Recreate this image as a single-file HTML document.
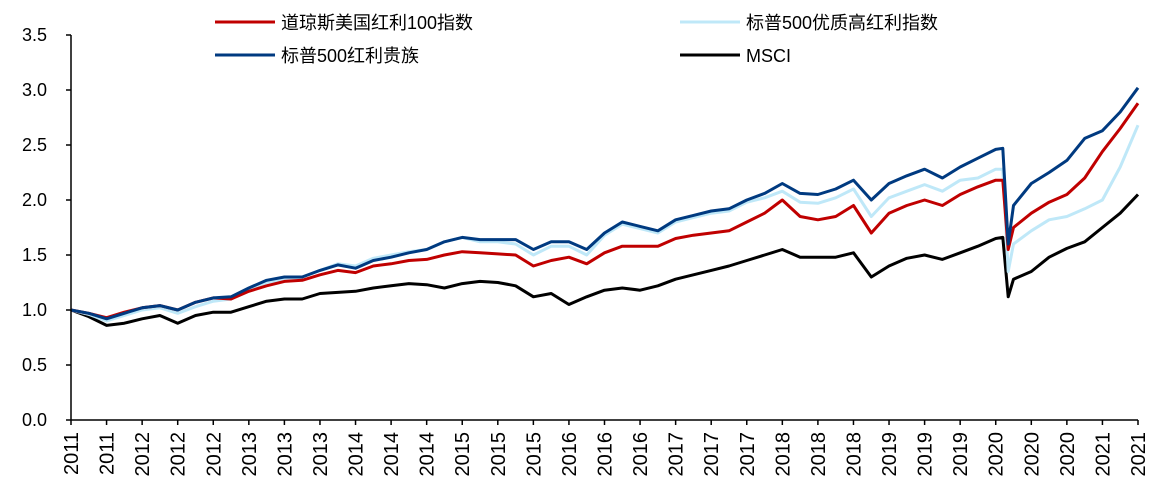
<!DOCTYPE html>
<html><head><meta charset="utf-8">
<style>
html,body{margin:0;padding:0;background:#fff;}
svg{display:block;font-family:"Liberation Sans","Noto Sans CJK SC",sans-serif;}
</style></head>
<body>
<svg id="chart" width="1155" height="492" viewBox="0 0 1155 492" xmlns="http://www.w3.org/2000/svg">
<g id="legend">
  <g>
    <line x1="215" y1="22" x2="275" y2="22" stroke="#C00000" stroke-width="3"/>
    <text x="281" y="29" font-size="18" fill="#000">道琼斯美国红利100指数</text>
  </g>
  <g>
    <line x1="680" y1="22" x2="740" y2="22" stroke="#BFE8F8" stroke-width="3"/>
    <text x="746" y="29" font-size="18" fill="#000">标普500优质高红利指数</text>
  </g>
  <g>
    <line x1="215" y1="55" x2="275" y2="55" stroke="#003A80" stroke-width="3"/>
    <text x="281" y="62" font-size="18" fill="#000">标普500红利贵族</text>
  </g>
  <g>
    <line x1="680" y1="55" x2="740" y2="55" stroke="#000" stroke-width="3"/>
    <text x="746" y="62" font-size="18" fill="#000">MSCI</text>
  </g>
</g>
<g id="series"></g>
<g id="axes"></g>
</svg>
<script>
const tPoints = [0,0.5,1,1.5,2,2.5,3,3.5,4,4.5,5,5.5,6,6.5,7,7.5,8,8.5,9,9.5,10,10.5,11,11.5,12,12.5,13,13.5,14,14.5,15,15.5,16,16.5,17,17.5,18,18.5,19,19.5,20,20.5,21,21.5,22,22.5,23,23.5,24,24.5,25,25.5,26,26.2,26.35,26.5,27,27.5,28,28.5,29,29.5,30];
const lightValues = [1.0,0.96,0.90,0.95,1.00,1.02,0.97,1.03,1.08,1.10,1.18,1.25,1.28,1.30,1.36,1.42,1.40,1.47,1.50,1.53,1.55,1.62,1.66,1.62,1.62,1.60,1.50,1.58,1.58,1.50,1.68,1.78,1.74,1.70,1.80,1.84,1.88,1.90,1.98,2.02,2.08,1.98,1.97,2.02,2.10,1.85,2.02,2.08,2.14,2.08,2.18,2.20,2.28,2.28,1.35,1.60,1.72,1.82,1.85,1.92,2.00,2.30,2.68];
const redValues = [1.0,0.97,0.93,0.98,1.02,1.04,1.0,1.07,1.11,1.10,1.17,1.22,1.26,1.27,1.32,1.36,1.34,1.40,1.42,1.45,1.46,1.50,1.53,1.52,1.51,1.50,1.40,1.45,1.48,1.42,1.52,1.58,1.58,1.58,1.65,1.68,1.70,1.72,1.80,1.88,2.0,1.85,1.82,1.85,1.95,1.70,1.88,1.95,2.0,1.95,2.05,2.12,2.18,2.18,1.55,1.75,1.88,1.98,2.05,2.20,2.44,2.65,2.88];
const blueValues = [1.0,0.97,0.92,0.97,1.02,1.04,1.0,1.07,1.11,1.12,1.20,1.27,1.30,1.30,1.36,1.41,1.38,1.45,1.48,1.52,1.55,1.62,1.66,1.64,1.64,1.64,1.55,1.62,1.62,1.55,1.70,1.80,1.76,1.72,1.82,1.86,1.90,1.92,2.00,2.06,2.15,2.06,2.05,2.10,2.18,2.00,2.15,2.22,2.28,2.20,2.30,2.38,2.46,2.47,1.60,1.95,2.15,2.25,2.36,2.56,2.63,2.80,3.02];
const msciValues = [1.0,0.94,0.86,0.88,0.92,0.95,0.88,0.95,0.98,0.98,1.03,1.08,1.10,1.10,1.15,1.16,1.17,1.20,1.22,1.24,1.23,1.20,1.24,1.26,1.25,1.22,1.12,1.15,1.05,1.12,1.18,1.20,1.18,1.22,1.28,1.32,1.36,1.40,1.45,1.50,1.55,1.48,1.48,1.48,1.52,1.30,1.40,1.47,1.50,1.46,1.52,1.58,1.65,1.66,1.12,1.28,1.35,1.48,1.56,1.62,1.75,1.88,2.05];
const yTicks = [0,0.5,1.0,1.5,2.0,2.5,3.0,3.5];
const xTickLabels = ["2011","2011","2012","2012","2012","2013","2013","2013","2014","2014","2014","2015","2015","2015","2016","2016","2016","2017","2017","2017","2018","2018","2018","2019","2019","2019","2020","2020","2020","2021","2021"];

const NS="http://www.w3.org/2000/svg";
const X0=71, X1=1138, Y0=420, Y1=35, TMAX=30, VMAX=3.5;
const xScale=t=>X0+(t/TMAX)*(X1-X0);
const yScale=v=>Y0-(v/VMAX)*(Y0-Y1);
function mk(tag,attrs){const e=document.createElementNS(NS,tag);for(const k in attrs)e.setAttribute(k,attrs[k]);return e;}

const series=document.getElementById('series');
function drawLine(vals,color,name){
  const d=vals.map((v,i)=>(i?'L':'M')+xScale(tPoints[i]).toFixed(1)+','+yScale(v).toFixed(1)).join(' ');
  const p=mk('path',{d:d,fill:'none',stroke:color,'stroke-width':3,'stroke-linejoin':'round'});
  
  
  series.appendChild(p);
}
drawLine(msciValues,'#000','line-msci');
drawLine(lightValues,'#BFE8F8','line-sp500-high-div');
drawLine(redValues,'#C00000','line-dowjones-100');
drawLine(blueValues,'#003A80','line-sp500-aristocrats');

const axes=document.getElementById('axes');
const yAxis=mk('line',{x1:X0,y1:Y1,x2:X0,y2:Y0,stroke:'#000','stroke-width':1.5});


axes.appendChild(yAxis);
const xAxis=mk('line',{x1:X0,y1:Y0,x2:X1,y2:Y0,stroke:'#000','stroke-width':1.5});


axes.appendChild(xAxis);
yTicks.forEach(v=>{
  const y=yScale(v);
  axes.appendChild(mk('line',{x1:X0-5,y1:y,x2:X0,y2:y,stroke:'#000','stroke-width':1.5}));
  const t=mk('text',{x:47,y:y+6,'font-size':18,'text-anchor':'end',fill:'#000'});
  
  
  t.textContent=v.toFixed(1);
  axes.appendChild(t);
});
xTickLabels.forEach((lab,i)=>{
  const x=xScale(i);
  axes.appendChild(mk('line',{x1:x,y1:Y0,x2:x,y2:Y0+5,stroke:'#000','stroke-width':1.5}));
  const t=mk('text',{x:0,y:0,'font-size':20,'text-anchor':'end',fill:'#000',transform:'translate('+(x+7)+','+(Y0+12)+') rotate(-90)'});
  
  
  t.textContent=lab;
  axes.appendChild(t);
});
</script>
</body></html>
